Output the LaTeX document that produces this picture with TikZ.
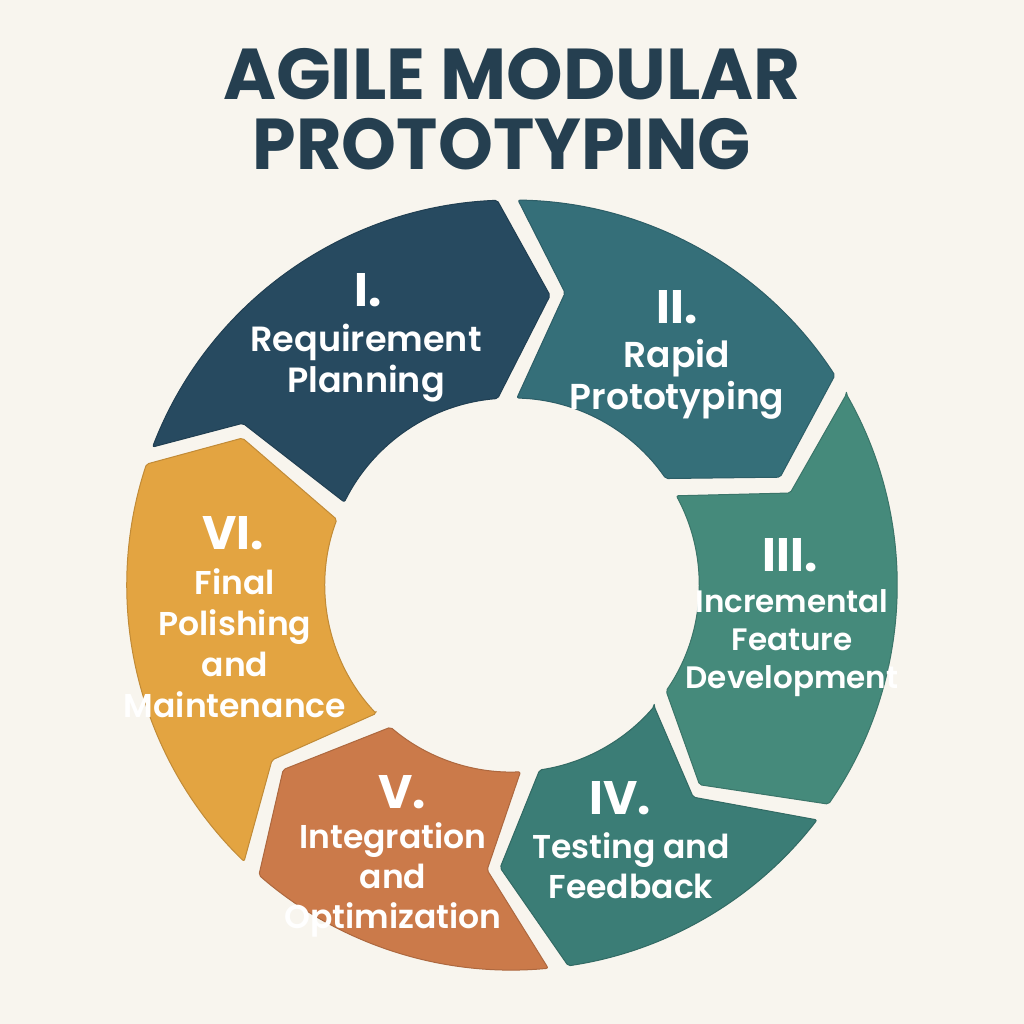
\documentclass[tikz,border=0pt]{standalone}
\usepackage{fontspec}
\setmainfont{Poppins}
\newfontfamily\titlefont{Poppins Bold}
\newfontfamily\labelfont{Poppins SemiBold}
\definecolor{paper}{HTML}{F8F5EE}
\definecolor{ink}{HTML}{253F50}
\definecolor{cI}{HTML}{274A60}
\definecolor{cII}{HTML}{356F79}
\definecolor{cIII}{HTML}{458A7B}
\definecolor{cIV}{HTML}{3B7D76}
\definecolor{cV}{HTML}{CB7A4A}
\definecolor{cVI}{HTML}{E3A441}
\tikzset{
  seg/.style={fill=#1, draw=#1!85!black, line width=1pt, line join=round, rounded corners=2pt},
  numlabel/.style={text=white, inner sep=0pt, font=\titlefont\fontsize{47}{52}\selectfont},
  % #1 = font size, #2 = line spacing; the node is placed at the baseline of its last line
  bodylabel/.style 2 args={text=white, inner sep=0pt, align=center, anchor=base,
    font=\labelfont\fontsize{#1}{#2}\selectfont},
  titletext/.style={text=ink, inner sep=0pt, anchor=base, font=\titlefont\fontsize{72}{72}\selectfont}
}
\begin{document}
\begin{tikzpicture}[x=1pt,y=1pt]
  % canvas, origin at the centre of the ring
  \fill[paper] (-512,-439) rectangle (512,585);
  \useasboundingbox (-512,-439) rectangle (512,585);

  % title
  \node[titletext] (title1) at (0,485) {AGILE MODULAR};
  \node[titletext, xscale=0.97] (title2) at (-10,415) {PROTOTYPING};

  % ring segments (outer radius 385, inner radius 187)
  \path[seg=cI] (159:385) arc[start angle=159,end angle=92.2,radius=385]
    -- (82.5:292) -- (94.4:187) arc[start angle=94.4,end angle=153.7,radius=187]
    -- (149:314) -- cycle;
  \path[seg=cII] (89.1:385) arc[start angle=89.1,end angle=33,radius=385]
    -- (21.9:289) -- (34.7:187) arc[start angle=34.7,end angle=88.5,radius=187]
    -- (79.7:297) -- cycle;
  \path[seg=cIII] (29.7:385) -- (18.3:293) -- (28.5:187)
    arc[start angle=28.5,end angle=-34.5,radius=187]
    -- (-46.8:274) -- (-34.7:385) arc[start angle=-34.7,end angle=29.7,radius=385] -- cycle;
  \path[seg=cIV] (-40.5:187) -- (-49.5:279) -- (-37.6:385)
    arc[start angle=-37.6,end angle=-81.6,radius=385]
    -- (-92.4:283) -- (-81.5:187) arc[start angle=-81.5,end angle=-40.5,radius=187] -- cycle;
  \path[seg=cV] (-130.5:187) arc[start angle=-130.5,end angle=-87.4,radius=187]
    -- (-95:286) -- (-84.6:385) arc[start angle=-84.6,end angle=-131.1,radius=385]
    -- (-141.1:294) -- cycle;
  \path[seg=cVI] (-136.6:187) -- (-143.9:297) -- (-134.1:385)
    arc[start angle=-134.1,end angle=-198.3,radius=385]
    -- (-208.6:307) -- (-200.5:187) arc[start angle=-200.5,end angle=-136.6,radius=187] -- cycle;

  % stage labels
  \node[numlabel] (n1) at (-144,295) {I.};
  \node[bodylabel={35}{41}] (t1) at (-146,192) {Requirement\\Planning};
  \node[numlabel] (n2) at (165,278) {II.};
  \node[bodylabel={36}{42}] (t2) at (165,175) {Rapid\\Prototyping};
  \node[numlabel] (n3) at (278,30) {III.};
  \node[bodylabel={31}{38}] (t3) at (280,-103) {Incremental\\Feature\\Development};
  \node[numlabel] (n4) at (108,-213) {IV.};
  \node[bodylabel={33}{40}] (t4) at (119,-313) {Testing and\\Feedback};
  \node[numlabel] (n5) at (-110,-207) {V.};
  \node[bodylabel={33}{40}] (t5) at (-119,-343) {Integration\\and\\Optimization};
  \node[numlabel] (n6) at (-279,52) {VI.};
  \node[bodylabel={33}{41}] (t6) at (-277,-132) {Final\\Polishing\\and\\Maintenance};
\end{tikzpicture}
\end{document}
